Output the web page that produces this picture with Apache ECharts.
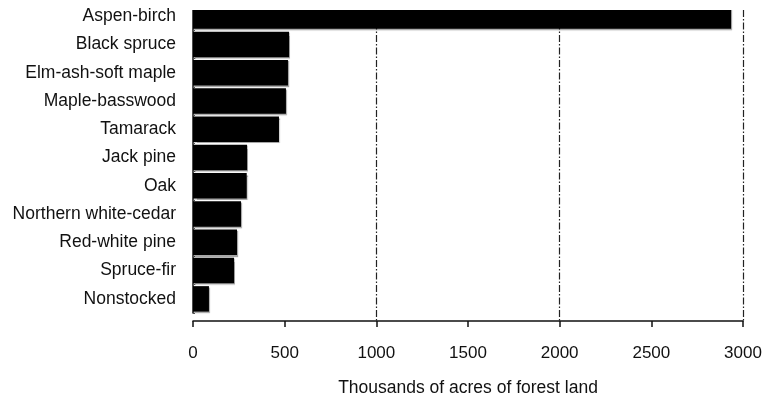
<!DOCTYPE html>
<html>
<head>
<meta charset="utf-8">
<script src="https://cdn.jsdelivr.net/npm/echarts@6/dist/echarts.min.js"></script>
<style>html,body{margin:0;padding:0;background:#fff;}#c{width:774px;height:402px;}</style>
</head>
<body>
<div id="c"></div>
<script>
var categories = ['Aspen-birch','Black spruce','Elm-ash-soft maple','Maple-basswood','Tamarack','Jack pine','Oak','Northern white-cedar','Red-white pine','Spruce-fir','Nonstocked'];
var values = [2935, 524, 518, 507, 469, 295, 293, 262, 240, 224, 87];
var xTicks = [0, 500, 1000, 1500, 2000, 2500, 3000];
var xTitle = 'Thousands of acres of forest land';

var font = 'Liberation Sans, Arial, sans-serif';
var chart = echarts.init(document.getElementById('c'), null, {renderer: 'canvas'});
chart.setOption({
  animation: false,
  backgroundColor: '#fff',
  grid: [
    {left: 193, width: 550, top: 2, height: 311},
    {left: 193, width: 550, top: 10, height: 320}
  ],
  xAxis: [
    {gridIndex: 0, type: 'value', min: xTicks[0], max: xTicks[xTicks.length-1], show: false, splitLine: {show: false}},
    {gridIndex: 1, type: 'value', min: 0, max: 3000, interval: 1000,
      axisLine: {show: false}, axisTick: {show: false}, axisLabel: {show: false},
      splitLine: {show: true, showMinLine: false, lineStyle: {color: '#222', width: 1.2, type: [7, 2, 1.5, 2]}}},
    {gridIndex: 1, type: 'value', min: xTicks[0], max: xTicks[xTicks.length-1], interval: 500, position: 'bottom',
      axisLine: {show: true, lineStyle: {color: '#111', width: 1.5}},
      axisTick: {show: true, inside: false, length: 6, lineStyle: {color: '#111', width: 1.5}},
      axisLabel: {show: true, color: '#111', fontFamily: font, fontSize: 17, margin: 24,
        formatter: function (v) { return String(v); }},
      splitLine: {show: false},
      name: xTitle, nameLocation: 'middle', nameGap: 58,
      nameTextStyle: {color: '#111', fontFamily: font, fontSize: 17.5}}
  ],
  yAxis: [
    {gridIndex: 0, type: 'category', data: categories, inverse: true,
      axisLine: {show: true, lineStyle: {color: '#111', width: 1.5}},
      axisTick: {show: true, inside: true, length: 2, lineStyle: {color: '#555'}},
      axisLabel: {color: '#111', fontFamily: font, fontSize: 17.5, margin: 17, padding: [9, 0, 0, 0]},
      splitLine: {show: false}},
    {gridIndex: 1, type: 'value', min: 0, max: 1, show: false, splitLine: {show: false}}
  ],
  series: [{
    type: 'bar',
    xAxisIndex: 0, yAxisIndex: 0,
    data: values,
    barCategoryGap: '10%',
    itemStyle: {color: '#000', shadowColor: 'rgba(0,0,0,0.35)', shadowOffsetX: 1, shadowOffsetY: 1.5, shadowBlur: 1},
    z: 3
  }],
  graphic: [{
    type: 'rect', left: 185, top: 0, shape: {width: 589, height: 10},
    style: {fill: '#fff'}, z: 100
  }]
});
</script>
</body>
</html>
